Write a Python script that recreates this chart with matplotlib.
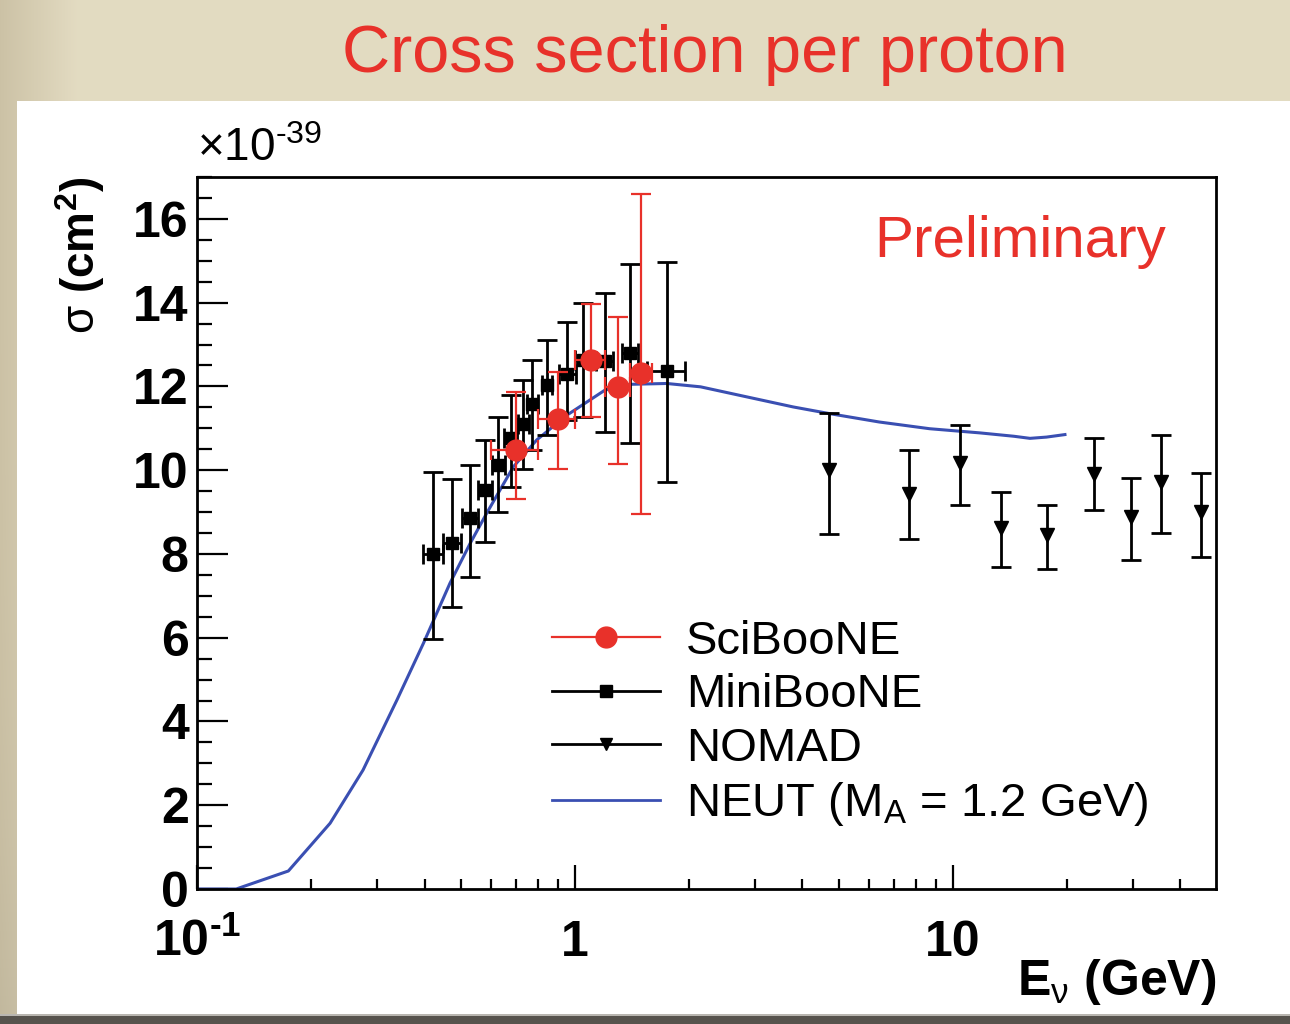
import numpy as np
import matplotlib
matplotlib.use('Agg')
import matplotlib.pyplot as plt
from matplotlib.lines import Line2D
from matplotlib.patches import Rectangle
from matplotlib.ticker import FixedLocator, LogLocator, NullFormatter

plt.rcParams['font.family'] = ['Liberation Sans', 'DejaVu Sans']
plt.rcParams['mathtext.fontset'] = 'custom'
plt.rcParams['mathtext.rm'] = 'Liberation Sans'
plt.rcParams['mathtext.it'] = 'Liberation Sans:italic'
plt.rcParams['mathtext.bf'] = 'Liberation Sans:bold'

# SciBooNE (units of 1e-39 cm^2)
sb_e = [0.70, 0.90, 1.10, 1.30, 1.50]
sb_xerr = [0.10, 0.10, 0.10, 0.10, 0.10]
sb_sigma = [10.49, 11.21, 12.63, 11.99, 12.32]
sb_err_lo = [1.19, 1.19, 1.36, 1.85, 3.37]
sb_err_hi = [1.38, 1.14, 1.33, 1.67, 4.27]

# MiniBooNE
mb_e = [0.422, 0.474, 0.528, 0.578, 0.627, 0.676, 0.730, 0.772, 0.845,
        0.955, 1.05, 1.20, 1.40, 1.75]
mb_xerr = [0.025, 0.025, 0.025, 0.025, 0.025, 0.025, 0.025, 0.025, 0.025,
           0.05, 0.05, 0.06, 0.07, 0.20]
mb_sigma = [8.00, 8.27, 8.85, 9.52, 10.13, 10.76, 11.11, 11.57, 12.03,
            12.30, 12.63, 12.61, 12.80, 12.37]
mb_err_lo = [2.04, 1.53, 1.40, 1.23, 1.13, 1.16, 1.09, 1.09, 1.19,
             1.11, 1.36, 1.70, 2.14, 2.65]
mb_err_hi = [1.96, 1.51, 1.27, 1.21, 1.14, 1.03, 1.05, 1.07, 1.09,
             1.24, 1.35, 1.63, 2.12, 2.60]

# NOMAD
nm_e = [4.71, 7.66, 10.45, 13.45, 17.7, 23.65, 29.6, 35.5, 45.3]
nm_sigma = [10.00, 9.44, 10.16, 8.61, 8.45, 9.92, 8.89, 9.72, 9.00]
nm_err_lo = [1.53, 1.09, 0.98, 0.92, 0.82, 0.86, 1.04, 1.21, 1.07]
nm_err_hi = [1.37, 1.04, 0.93, 0.86, 0.73, 0.86, 0.93, 1.13, 0.94]

# NEUT prediction, M_A = 1.2 GeV
neut_e = [0.1, 0.127, 0.1745, 0.225, 0.275, 0.338, 0.397, 0.467, 0.528,
          0.584, 0.687, 0.792, 0.951, 1.2, 1.4, 1.75, 2.15, 2.85, 3.78,
          4.72, 6.39, 8.68, 11.8, 14.5, 16.0, 17.7, 19.8]
neut_sigma = [0.0, 0.0, 0.43, 1.57, 2.84, 4.51, 5.86, 7.30, 8.25,
              8.97, 10.08, 10.72, 11.31, 11.91, 12.05, 12.07, 11.99, 11.75, 11.51,
              11.35, 11.15, 10.99, 10.89, 10.81, 10.76, 10.79, 10.85]

red = '#e8312a'
blue = '#3a4fb2'
hyph = '\u2010'

fig = plt.figure(figsize=(12.9, 10.24), dpi=100)

# slide background: beige header band, white panel, dark bottom edge
bg = fig.add_axes([0, 0, 1, 1], zorder=-10)
bg.set_xlim(0, 1290)
bg.set_ylim(1024, 0)
bg.axis('off')
xs = np.linspace(0, 1, 1290)
ys = np.linspace(0, 1, 110)
col_l = np.array([0.80, 0.76, 0.65])
col_m = np.array([0.89, 0.86, 0.76])
hmix = np.clip(xs / 0.06, 0, 1)[None, :, None]
vshade = (1 - 0.05 * ys ** 4)[:, None, None]
band = (col_l * (1 - hmix) + col_m * hmix) * vshade
bg.imshow(band, extent=(0, 1290, 1024, 0), aspect='auto', zorder=0)
bg.add_patch(Rectangle((17, 101), 1273, 915, facecolor='white', edgecolor='none', zorder=1))
bg.add_patch(Rectangle((0, 1016), 1290, 8, facecolor='#57534d', edgecolor='none', zorder=1))
bg.add_patch(Rectangle((0, 1014), 1290, 2, facecolor='#b9b6b0', edgecolor='none', zorder=1))

fig.text(705 / 1290, 1 - 55 / 1024, 'Cross section per proton', color=red,
         fontsize=48, ha='center', va='center')

ax = fig.add_axes([197 / 1290, 1 - 889 / 1024, (1216 - 197) / 1290, (889 - 177) / 1024])
ax.set_facecolor('none')

ax.plot(neut_e, neut_sigma, color=blue, lw=2.2, zorder=2)

ax.errorbar(mb_e, mb_sigma, xerr=mb_xerr, yerr=[mb_err_lo, mb_err_hi],
            fmt='s', color='black', ms=9, elinewidth=2, capsize=7, capthick=2, zorder=3)
ax.errorbar(nm_e, nm_sigma, yerr=[nm_err_lo, nm_err_hi],
            fmt='v', color='black', ms=10, elinewidth=2, capsize=7, capthick=2, zorder=3)
ax.errorbar(sb_e, sb_sigma, xerr=sb_xerr, yerr=[sb_err_lo, sb_err_hi],
            fmt='o', color=red, ms=15, elinewidth=1.6, capsize=7, capthick=1.6, zorder=4)

ax.set_xscale('log')
ax.set_xlim(0.1, 49.7)
ax.set_ylim(0, 17)

ax.xaxis.set_major_locator(FixedLocator([0.1, 1, 10]))
ax.xaxis.set_minor_locator(LogLocator(base=10, subs=np.arange(2, 10)))
ax.xaxis.set_minor_formatter(NullFormatter())
ax.set_xticklabels([r'$\mathbf{10^{' + hyph + r'1}}$', '1', '10'], fontsize=36, fontweight='bold')
plt.setp(ax.get_xticklabels(), va='baseline')
ax.set_yticks(np.arange(0, 17, 2))
ax.set_yticks(np.arange(0, 17.01, 0.5), minor=True)
ax.set_yticklabels([str(v) for v in range(0, 17, 2)], fontsize=36, fontweight='bold')

ax.tick_params(axis='both', which='both', direction='in', top=False, right=False, width=1.6)
ax.tick_params(axis='x', which='major', length=17, pad=48)
ax.tick_params(axis='x', which='minor', length=7)
ax.tick_params(axis='y', which='major', length=22, pad=6)
ax.tick_params(axis='y', which='minor', length=11)
for s in ax.spines.values():
    s.set_linewidth(2)

ax.set_xlabel(r'$\mathbf{E}_{\mathrm{\nu}}$ (GeV)', fontsize=36, fontweight='bold', loc='right')
ax.xaxis.set_label_coords(1.0, -0.095)
ax.set_ylabel(r'$\mathrm{\sigma}$ $\mathbf{(cm^{2})}$', fontsize=33, loc='top')
ax.yaxis.set_label_coords(-0.088, 1.0)

ax.text(0.0, 1.008, r'$\times$10$^{' + hyph + '39}$', transform=ax.transAxes, fontsize=33,
        ha='left', va='bottom')
ax.text(0.951, 0.909, 'Preliminary', transform=ax.transAxes, color=red,
        fontsize=42, ha='right', va='center')

handles = [
    Line2D([], [], color=red, marker='o', ms=15, lw=1.6),
    Line2D([], [], color='black', marker='s', ms=9, lw=2),
    Line2D([], [], color='black', marker='v', ms=9, lw=2),
    Line2D([], [], color=blue, lw=2),
]
labels = ['SciBooNE', 'MiniBooNE', 'NOMAD', r'NEUT (M$_{\mathrm{A}}$ = 1.2 GeV)']
ax.legend(handles, labels, loc='upper left', bbox_to_anchor=(0.348, 0.378),
          frameon=False, fontsize=34, handlelength=2.3, handletextpad=0.55,
          labelspacing=0.2, borderpad=0, borderaxespad=0)

fig.savefig('out.png', dpi=100)
